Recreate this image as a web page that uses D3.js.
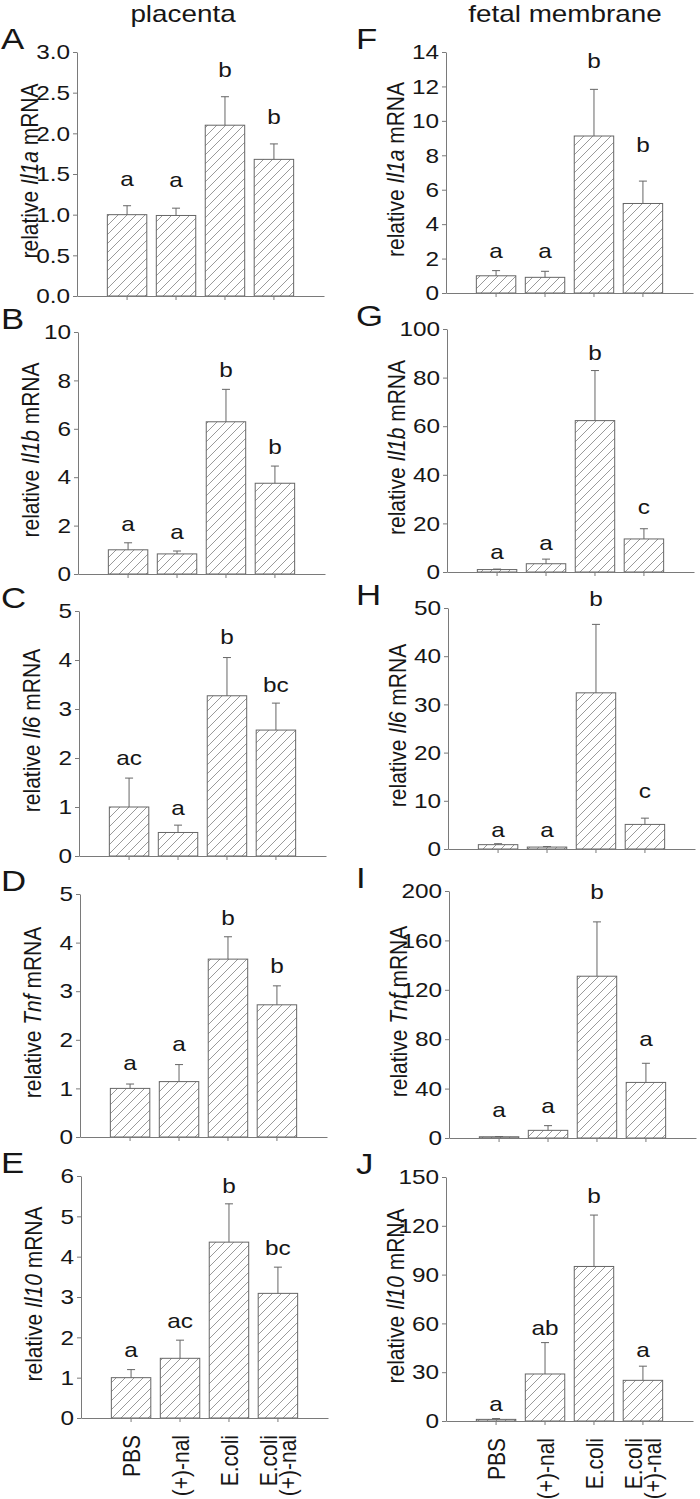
<!DOCTYPE html>
<html lang="en">
<head>
<meta charset="UTF-8" />
<title>placenta / fetal membrane cytokine mRNA</title>
<style>
  html, body {
    margin: 0;
    padding: 0;
    background: #fff;
  }
  svg {
    display: block;
    font-family: "Liberation Sans", Arial, sans-serif;
  }
</style>
</head>
<body>
<div id="chart"></div>

<script src="https://cdnjs.cloudflare.com/ajax/libs/d3/7.8.5/d3.min.js"></script>
<script>
// ---- data ----
const categories = ["PBS", "(+)-nal", "E.coli", "E.coli (+)-nal"];

// placenta
const il1aPlacenta = [1.00, 0.99, 2.10, 1.68];
const il1aPlacentaSem = [0.11, 0.09, 0.35, 0.19];
const il1aPlacentaLetters = ["a", "a", "b", "b"];

const il1bPlacenta = [1.00, 0.83, 6.29, 3.75];
const il1bPlacentaSem = [0.29, 0.12, 1.34, 0.71];
const il1bPlacentaLetters = ["a", "a", "b", "b"];

const il6Placenta = [1.00, 0.48, 3.27, 2.57];
const il6PlacentaSem = [0.59, 0.15, 0.78, 0.55];
const il6PlacentaLetters = ["ac", "a", "b", "bc"];

const tnfPlacenta = [1.00, 1.14, 3.66, 2.72];
const tnfPlacentaSem = [0.09, 0.35, 0.46, 0.39];
const tnfPlacentaLetters = ["a", "a", "b", "b"];

const il10Placenta = [1.00, 1.48, 4.36, 3.09];
const il10PlacentaSem = [0.20, 0.45, 0.95, 0.65];
const il10PlacentaLetters = ["a", "ac", "b", "bc"];

// fetal membrane
const il1aMembrane = [1.0, 0.91, 9.12, 5.2];
const il1aMembraneSem = [0.3, 0.35, 2.71, 1.3];
const il1aMembraneLetters = ["a", "a", "b", "b"];

const il1bMembrane = [1.0, 3.4, 62.3, 13.6];
const il1bMembraneSem = [0.2, 1.9, 20.6, 4.2];
const il1bMembraneLetters = ["a", "a", "b", "c"];

const il6Membrane = [0.9, 0.4, 32.4, 5.1];
const il6MembraneSem = [0.2, 0.1, 14.2, 1.3];
const il6MembraneLetters = ["a", "a", "b", "c"];

const tnfMembrane = [1.0, 6.2, 131, 45];
const tnfMembraneSem = [0.2, 3.8, 44, 15.5];
const tnfMembraneLetters = ["a", "a", "b", "a"];

const il10Membrane = [1.0, 28.9, 95, 25];
const il10MembraneSem = [0.5, 19.3, 31.6, 8.7];
const il10MembraneLetters = ["a", "ab", "b", "a"];

// y tick labels
const ticksA = [0, 0.5, 1.0, 1.5, 2.0, 2.5, 3.0];
const ticksB = [0, 2, 4, 6, 8, 10];
const ticksC = [0, 1, 2, 3, 4, 5];
const ticksD = [0, 1, 2, 3, 4, 5];
const ticksE = [0, 1, 2, 3, 4, 5, 6];
const ticksF = [0, 2, 4, 6, 8, 10, 12, 14];
const ticksG = [0, 20, 40, 60, 80, 100];
const ticksH = [0, 10, 20, 30, 40, 50];
const ticksI = [0, 40, 80, 120, 160, 200];
const ticksJ = [0, 30, 60, 90, 120, 150];

// ---- layout ----
const SX = 1.16;           // the figure is stretched horizontally
const textColor = "#161616";
const axisColor = "#7a7a7a";
const barStroke = "#666";

const panels = [
  { tag: "A", gene: "Il1a", v: il1aPlacenta, e: il1aPlacentaSem, l: il1aPlacentaLetters, ticks: ticksA, fmt: d3.format(".1f"), ax: 77, top: 52, bottom: 296, col: 0, gap: [20, 21, 20, 20] },
  { tag: "B", gene: "Il1b", v: il1bPlacenta, e: il1bPlacentaSem, l: il1bPlacentaLetters, ticks: ticksB, fmt: d3.format("d"), ax: 78, top: 332, bottom: 574, col: 0, gap: [12, 12, 12, 12] },
  { tag: "C", gene: "Il6", v: il6Placenta, e: il6PlacentaSem, l: il6PlacentaLetters, ticks: ticksC, fmt: d3.format("d"), ax: 79, top: 611, bottom: 856, col: 0, gap: [13, 10, 14, 11] },
  { tag: "D", gene: "Tnf", v: tnfPlacenta, e: tnfPlacentaSem, l: tnfPlacentaLetters, ticks: ticksD, fmt: d3.format("d"), ax: 80, top: 894, bottom: 1137, col: 0, gap: [14, 14, 12, 13] },
  { tag: "E", gene: "Il10", v: il10Placenta, e: il10PlacentaSem, l: il10PlacentaLetters, ticks: ticksE, fmt: d3.format("d"), ax: 81, top: 1176, bottom: 1418, col: 0, gap: [13, 12, 11, 12], bottomRow: true },
  { tag: "F", gene: "Il1a", v: il1aMembrane, e: il1aMembraneSem, l: il1aMembraneLetters, ticks: ticksF, fmt: d3.format("d"), ax: 446, top: 52, bottom: 293, col: 1, gap: [13, 13, 21, 29] },
  { tag: "G", gene: "Il1b", v: il1bMembrane, e: il1bMembraneSem, l: il1bMembraneLetters, ticks: ticksG, fmt: d3.format("d"), ax: 447, top: 329, bottom: 572, col: 1, gap: [10, 9, 11, 15] },
  { tag: "H", gene: "Il6", v: il6Membrane, e: il6MembraneSem, l: il6MembraneLetters, ticks: ticksH, fmt: d3.format("d"), ax: 448, top: 608, bottom: 849, col: 1, gap: [7, 10, 18, 20] },
  { tag: "I", gene: "Tnf", v: tnfMembrane, e: tnfMembraneSem, l: tnfMembraneLetters, ticks: ticksI, fmt: d3.format("d"), ax: 449, top: 891, bottom: 1138, col: 1, gap: [20, 13, 23, 17] },
  { tag: "J", gene: "Il10", v: il10Membrane, e: il10MembraneSem, l: il10MembraneLetters, ticks: ticksJ, fmt: d3.format("d"), ax: 446, top: 1177, bottom: 1421, col: 1, gap: [8, 8, 12, 9], bottomRow: true }
];

const svg = d3.select("#chart").append("svg")
  .attr("width", 700)
  .attr("height", 1499);

svg.append("rect").attr("width", 700).attr("height", 1499).attr("fill", "#fff");

// diagonal hatch fill
const hatch = svg.append("defs").append("pattern")
  .attr("id", "hatch")
  .attr("patternUnits", "userSpaceOnUse")
  .attr("width", 9)
  .attr("height", 9);
hatch.append("rect").attr("width", 9).attr("height", 9).attr("fill", "#fff");
hatch.append("path")
  .attr("d", "M-1,1 l2,-2 M0,9 l9,-9 M8,10 l2,-2")
  .attr("stroke", "#808080")
  .attr("stroke-width", 0.8);

// column titles
svg.append("text")
  .attr("transform", `translate(183,22) scale(${SX},1)`)
  .attr("text-anchor", "middle")
  .attr("font-size", 24)
  .attr("fill", textColor)
  .text("placenta");

svg.append("text")
  .attr("transform", `translate(565,22) scale(${SX},1)`)
  .attr("text-anchor", "middle")
  .attr("font-size", 24)
  .attr("fill", textColor)
  .text("fetal membrane");

panels.forEach(drawPanel);

function drawPanel(p) {
  const g = svg.append("g");

  const y = d3.scaleLinear()
    .domain([0, d3.max(p.ticks)])
    .range([p.bottom, p.top]);

  const x = d3.scaleBand()
    .domain(categories)
    .range([p.ax, p.ax + 247])
    .paddingInner(0.194)
    .paddingOuter(0.62);

  const rows = categories.map((c, i) => ({ cat: c, v: p.v[i], e: p.e[i], l: p.l[i], gap: p.gap[i] }));

  // bars
  g.selectAll(".bar")
    .data(rows)
    .join("rect")
    .attr("class", "bar")
    .attr("x", d => x(d.cat))
    .attr("y", d => y(d.v))
    .attr("width", x.bandwidth())
    .attr("height", d => y(0) - y(d.v))
    .attr("fill", "url(#hatch)")
    .attr("stroke", barStroke)
    .attr("stroke-width", 1);

  // upper error bars
  const err = g.selectAll(".err")
    .data(rows)
    .join("g")
    .attr("class", "err")
    .attr("stroke", barStroke)
    .attr("stroke-width", 1);
  err.append("line")
    .attr("x1", d => x(d.cat) + x.bandwidth() / 2)
    .attr("x2", d => x(d.cat) + x.bandwidth() / 2)
    .attr("y1", d => y(d.v))
    .attr("y2", d => y(d.v + d.e));
  err.append("line")
    .attr("x1", d => x(d.cat) + x.bandwidth() / 2 - 4)
    .attr("x2", d => x(d.cat) + x.bandwidth() / 2 + 4)
    .attr("y1", d => y(d.v + d.e))
    .attr("y2", d => y(d.v + d.e));

  // significance letters
  g.selectAll(".sig")
    .data(rows)
    .join("text")
    .attr("class", "sig")
    .attr("transform", d => `translate(${x(d.cat) + x.bandwidth() / 2},${y(d.v + d.e) - d.gap}) scale(${SX},1)`)
    .attr("text-anchor", "middle")
    .attr("font-size", 21)
    .attr("fill", textColor)
    .text(d => d.l);

  // y axis
  const yAxis = g.append("g")
    .attr("transform", `translate(${p.ax},0)`)
    .call(d3.axisLeft(y).tickValues(p.ticks).tickFormat(p.fmt).tickSize(4).tickSizeOuter(0).tickPadding(2));
  yAxis.select(".domain").attr("stroke", axisColor);
  yAxis.selectAll(".tick line").attr("stroke", axisColor);
  yAxis.selectAll(".tick text")
    .attr("font-size", 21)
    .attr("fill", textColor)
    .attr("transform", `scale(${SX},1)`);
  yAxis.attr("font-family", null).attr("font-size", null);

  // x axis
  const xAxis = g.append("g")
    .attr("transform", `translate(0,${p.bottom})`)
    .call(d3.axisBottom(x).tickSize(4).tickSizeOuter(0).tickFormat(""));
  xAxis.select(".domain").attr("stroke", axisColor);
  xAxis.selectAll(".tick line").attr("stroke", axisColor);

  // y label
  const mid = (p.top + p.bottom) / 2 - 3;
  const lx = p.ax - (p.col === 0 ? 39 : 42);
  const yl = g.append("text")
    .attr("transform", `translate(${lx},${mid}) scale(${SX},1) rotate(-90)`)
    .attr("text-anchor", "middle")
    .attr("font-size", 21)
    .attr("fill", textColor);
  yl.append("tspan").text("relative ");
  yl.append("tspan").attr("font-style", "italic").text(p.gene);
  yl.append("tspan").text(" mRNA");

  // panel letter
  g.append("text")
    .attr("transform", `translate(${p.col === 0 ? 1 : 356},${p.top - 3}) scale(${SX},1)`)
    .attr("font-size", 30)
    .attr("fill", textColor)
    .text(p.tag);

  // category labels under the bottom row
  if (p.bottomRow) {
    const lab = g.selectAll(".cat")
      .data(categories)
      .join("text")
      .attr("class", "cat")
      .attr("transform", d => `translate(${x(d) + x.bandwidth() / 2},${p.bottom + 17}) scale(${SX},1) rotate(-90)`)
      .attr("text-anchor", "end")
      .attr("font-size", 21)
      .attr("fill", textColor);
    lab.each(function (d) {
      const parts = d.split(" ");
      const n = parts.length;
      parts.forEach((t, i) => {
        d3.select(this).append("tspan")
          .attr("x", 0)
          .attr("y", (i - (n - 1) / 2) * 16.5)
          .attr("dy", "0.35em")
          .text(t);
      });
    });
  }
}
</script>
</body>
</html>
